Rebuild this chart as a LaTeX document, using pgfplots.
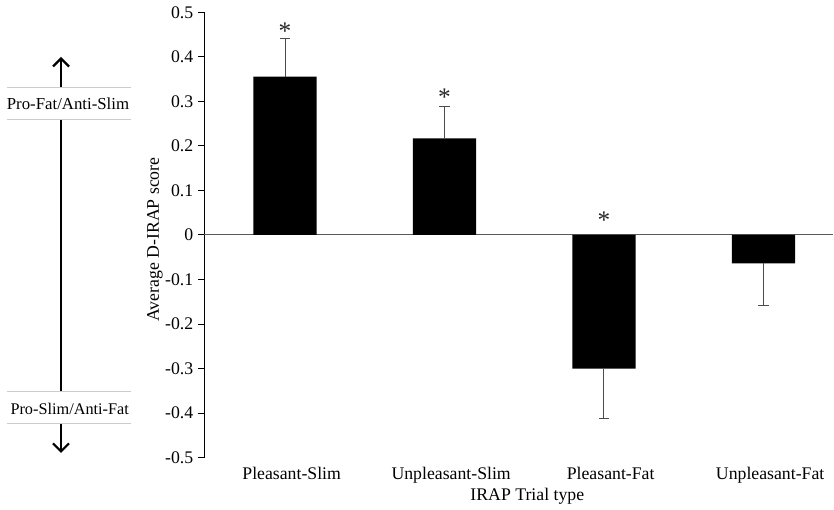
\documentclass[border=0pt]{standalone}
\usepackage{fontspec}
\setmainfont{Liberation Serif}
\usepackage{pgfplots}
\pgfplotsset{compat=1.18}
\usetikzlibrary{arrows.meta}
\begin{document}
\begin{tikzpicture}
\path (0pt,0pt) rectangle (625.5pt,380.25pt);
\begin{axis}[
  at={(153pt,36.975pt)}, anchor=south west,
  scale only axis, width=471.75pt, height=334.05pt,
  xmin=-0.508, xmax=3.436, ymin=-0.5, ymax=0.5,
  axis y line*=left, axis x line*=bottom,
  x axis line style={draw=none},
  y axis line style={line width=0.75pt},
  xtick={0,1,2,3},
  xticklabels={Pleasant-Slim,Unpleasant-Slim,Pleasant-Fat,Unpleasant-Fat},
  xtick style={draw=none},
  ytick={-0.5,-0.4,-0.3,-0.2,-0.1,0,0.1,0.2,0.3,0.4,0.5},
  yticklabels={-0.5,-0.4,-0.3,-0.2,-0.1,0,0.1,0.2,0.3,0.4,0.5},
  ytick style={line width=0.75pt, black},
  tick align=outside,
  major tick length=4.5pt,
  tick label style={font=\fontsize{13.3}{15}\selectfont},
  xticklabel style={anchor=base, yshift=-11.5pt, xshift=5pt},
  xlabel={IRAP Trial type},
  xlabel style={at={(axis description cs:0.514,0)}, anchor=base, yshift=-32.3pt, font=\fontsize{13.3}{15}\selectfont},
  ylabel={Average D-IRAP score},
  ylabel style={at={(axis description cs:-0.0779,0.49)}, anchor=center, font=\fontsize{13.3}{15}\selectfont},
  clip=false,
]
\draw[color=black!65, line width=0.75pt] (axis cs:-0.508,0) -- (axis cs:3.436,0);
\addplot[ybar, bar width=0.397, bar shift=0pt, fill=black, draw=none,
  error bars/.cd, y dir=plus, y explicit,
  error bar style={line width=0.75pt, black!70},
  error mark options={rotate=90, mark size=4.1pt, line width=0.75pt, black!70}]
  coordinates {(0,0.3555) +- (0,0.086) (1,0.217) +- (0,0.071)};
\addplot[ybar, bar width=0.397, bar shift=0pt, fill=black, draw=none,
  error bars/.cd, y dir=minus, y explicit,
  error bar style={line width=0.75pt, black!70},
  error mark options={rotate=90, mark size=4.1pt, line width=0.75pt, black!70}]
  coordinates {(2,-0.300) +- (0,0.1125) (3,-0.0635) +- (0,0.0945)};
\addplot[draw=none, mark=none, nodes near coords={*},
  nodes near coords style={anchor=center, yshift=-3.5pt, font=\fontsize{19}{19}\selectfont, black!85}]
  coordinates {(0,0.468) (1,0.320) (2,0.0427)};
\end{axis}
\draw[line width=1.6pt, {Straight Barb[length=6pt,width=12pt]}-{Straight Barb[length=6pt,width=12pt]}] (45.75pt,40.5pt) -- (45.75pt,337.5pt);
\fill[white] (5.5pt,291pt) rectangle (98pt,314.8pt);
\draw[black!20, line width=0.6pt] (5.5pt,291pt) -- (98pt,291pt) (5.5pt,314.8pt) -- (98pt,314.8pt);
\node[font=\fontsize{12.6}{14}\selectfont] at (51pt,302.25pt) {Pro-Fat/Anti-Slim};
\fill[white] (5.5pt,62.8pt) rectangle (98pt,86.5pt);
\draw[black!20, line width=0.6pt] (5.5pt,62.8pt) -- (98pt,62.8pt) (5.5pt,86.5pt) -- (98pt,86.5pt);
\node[font=\fontsize{12.2}{14}\selectfont] at (52.3pt,73.5pt) {Pro-Slim/Anti-Fat};
\end{tikzpicture}
\end{document}
